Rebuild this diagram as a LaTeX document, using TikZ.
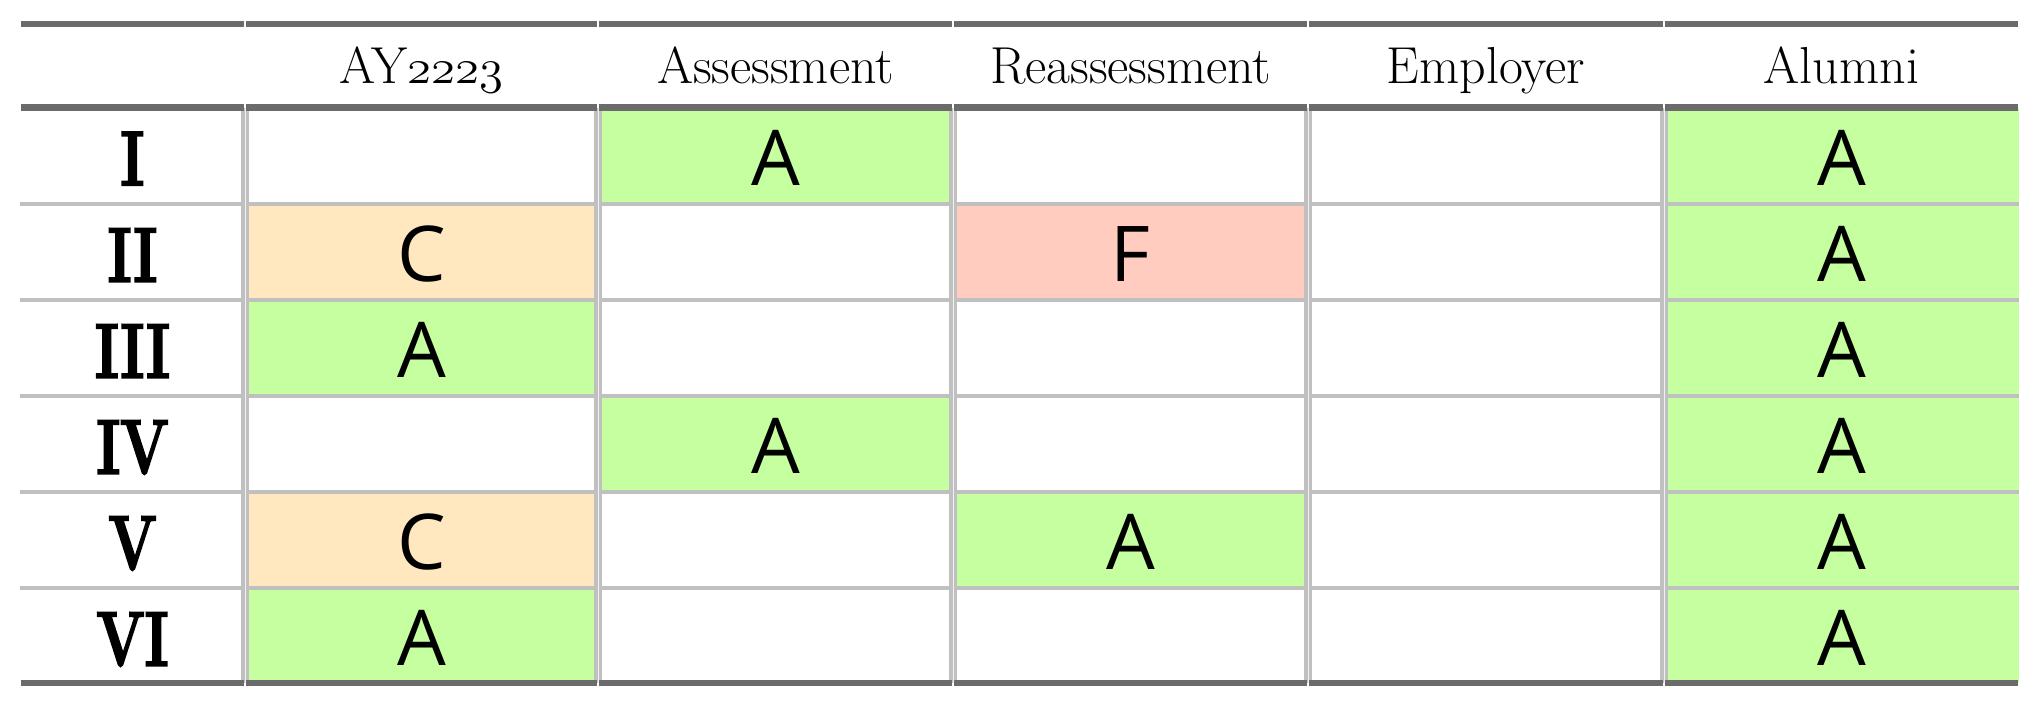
\documentclass[tikz,border=0pt]{standalone}
\usepackage{fontspec}
\usepackage{graphicx}
\newfontfamily\cellfont{Open Sans}
\newfontfamily\rowfont{Latin Modern Roman}[BoldFeatures={FakeBold=3}]
\definecolor{cgreen}{HTML}{C5FF9F}
\definecolor{cpeach}{HTML}{FFE8C0}
\definecolor{csalmon}{HTML}{FFCCBF}
\definecolor{ruledark}{HTML}{6B6B6B}
\definecolor{rulelight}{HTML}{C0C0C0}
\newcommand{\osf}[1]{\resizebox{!}{21pt}{\usefont{OML}{cmm}{m}{it}#1}}
\tikzset{
  celltxt/.style={anchor=base,inner sep=0pt,font=\cellfont\fontsize{77}{77}\selectfont},
  headtxt/.style={anchor=base,inner sep=0pt,font=\fontsize{52}{52}\selectfont},
  rowtxt/.style={anchor=base,inner sep=0pt,font=\rowfont\bfseries\fontsize{77}{77}\selectfont},
  darkrule/.style={draw=ruledark,line width=6.5pt},
  lightrule/.style={draw=rulelight,line width=4.5pt},
  vrule/.style={draw=rulelight,line width=8pt},
}
\begin{document}
\begin{tikzpicture}[x=1pt,y=-1pt]
\useasboundingbox (0,0) rectangle (2039,707);
\fill[white] (0,0) rectangle (2039,707);
% cell fills and letters
\foreach \n/\xa/\xb/\ya/\yb/\col/\t in {
  r1c2/598/953/107.5/204/cgreen/A,
  r1c5/1664/2019/107.5/204/cgreen/A,
  r2c1/245/598/204/300/cpeach/C,
  r2c3/953/1308/204/300/csalmon/F,
  r2c5/1664/2019/204/300/cgreen/A,
  r3c1/245/598/300/396/cgreen/A,
  r3c5/1664/2019/300/396/cgreen/A,
  r4c2/598/953/396/492/cgreen/A,
  r4c5/1664/2019/396/492/cgreen/A,
  r5c1/245/598/492/588/cpeach/C,
  r5c3/953/1308/492/588/cgreen/A,
  r5c5/1664/2019/492/588/cgreen/A,
  r6c1/245/598/588/683/cgreen/A,
  r6c5/1664/2019/588/683/cgreen/A}{
  \fill[\col] (\xa,\ya) rectangle (\xb,\yb);
  \node[celltxt] (\n) at ({(\xa+\xb)/2},{\ya+77.5}) {\t};
}
% row labels
\foreach \n/\ya/\t in {l1/107.5/I,l2/204/II,l3/300/III,l4/396/IV,l5/492/V,l6/588/VI}{
  \node[rowtxt] (\n) at (132.5,{\ya+77.5}) {\scalebox{0.74}[1]{\t}};
}
% header labels
\node[headtxt] (h1) at (421.5,83) {AY\osf{2223}};
\node[headtxt] (h2) at (775.5,83) {Assessment};
\node[headtxt] (h3) at (1130.5,83) {Reassessment};
\node[headtxt] (h4) at (1486,83) {Employer};
\node[headtxt] (h5) at (1841.5,83) {Alumni};
% light horizontal lines
\foreach \y in {204,300,396,492,588}{
  \draw[lightrule] (20,\y) -- (2019,\y);
}
% vertical lines
\foreach \x in {245,598,953,1308,1664}{
  \draw[vrule] (\x,107.5) -- (\x,683);
  \draw[draw=white!80!rulelight,line width=0.8pt] (\x,107.5) -- (\x,683);
}
% dark rules, segmented per column
\foreach \y in {24,107.5,683}{
  \foreach \xa/\xb in {20/245,245/598,598/953,953/1308,1308/1664,1664/2019}{
    \draw[darkrule] ({\xa+0.6},\y) -- ({\xb-0.6},\y);
  }
}
\end{tikzpicture}
\end{document}
